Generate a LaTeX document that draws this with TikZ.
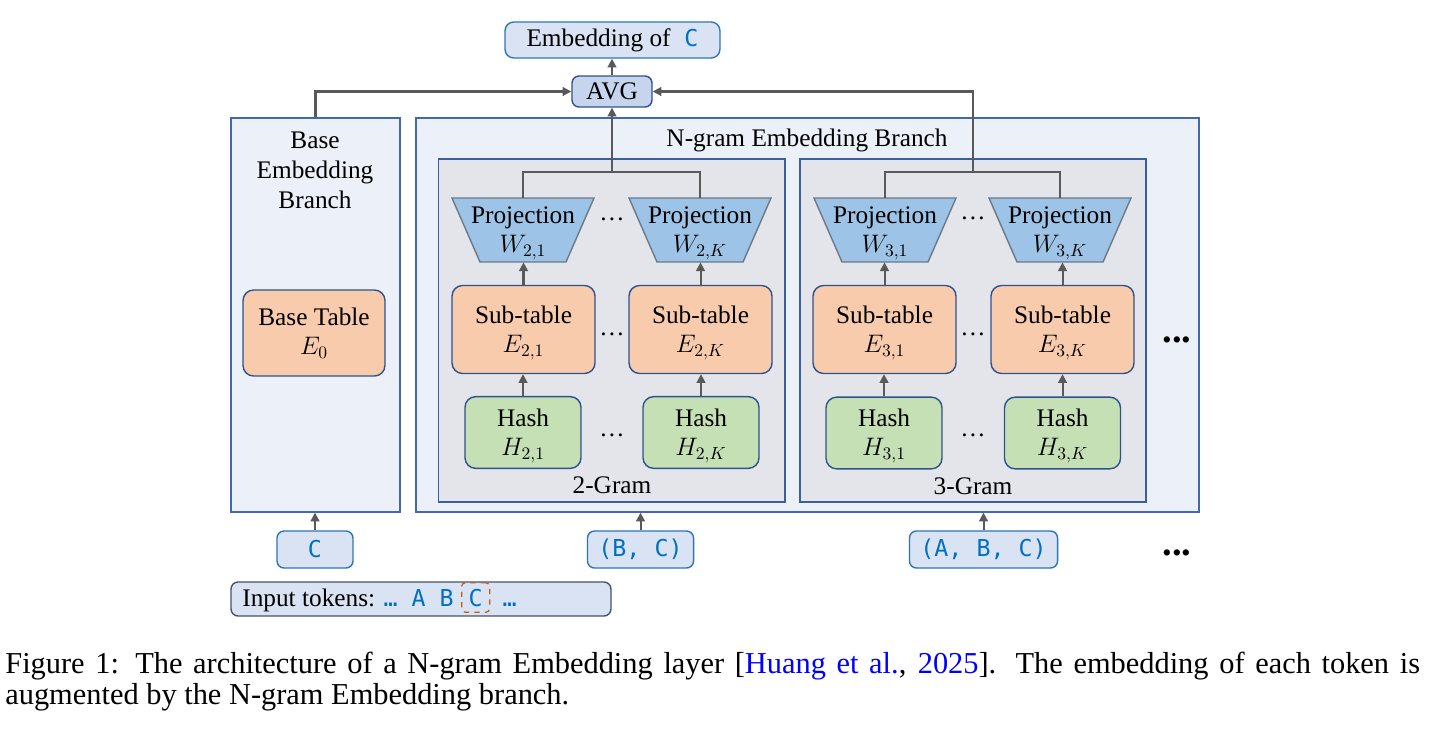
\documentclass[tikz,border=0pt]{standalone}
\usepackage{fontspec}
\setmainfont{Liberation Serif}
\setmonofont{DejaVu Sans Mono}[Scale=0.92]
\usetikzlibrary{positioning,arrows.meta}
\definecolor{arrgray}{HTML}{595959}
\definecolor{tokblue}{HTML}{0070C0}
\definecolor{citeblue}{HTML}{0000FF}
\definecolor{embfill}{HTML}{DAE3F3}
\definecolor{embdraw}{HTML}{2E75B6}
\definecolor{avgfill}{HTML}{C6D4EE}
\definecolor{boxdraw}{HTML}{2F528F}
\definecolor{branchfill}{HTML}{EBF0F9}
\definecolor{branchdraw}{HTML}{4268B0}
\definecolor{gramfill}{HTML}{E3E5EA}
\definecolor{gramdraw}{HTML}{3A5FA0}
\definecolor{projfill}{HTML}{9DC3E6}
\definecolor{projdraw}{HTML}{6A7A8A}
\definecolor{subfill}{HTML}{F8CBAD}
\definecolor{hashfill}{HTML}{C5E0B4}
\definecolor{inboxdraw}{HTML}{44546A}
\definecolor{markorange}{HTML}{C55A11}
\newcommand{\tok}[1]{\textcolor{tokblue}{\texttt{#1}}}
\newcommand{\topstrut}{\rule{0pt}{13.5pt}}
\begin{document}
\begin{tikzpicture}[x=0.02cm,y=-0.02cm,
  every node/.style={font=\fontsize{14.4}{16.5}\selectfont},
  arr/.style={draw=arrgray,line width=1.15pt,-{Triangle[length=5pt,width=5pt]}},
  link/.style={draw=arrgray,line width=1.15pt},
  branch/.style={draw=branchdraw,fill=branchfill,line width=0.8pt,inner sep=0pt,minimum height=7.88cm},
  gram/.style={draw=gramdraw,fill=gramfill,line width=0.9pt,inner sep=0pt,minimum width=6.93cm,minimum height=6.87cm},
  projshape/.style={draw=projdraw,fill=projfill,line width=0.8pt},
  projtxt/.style={align=center,inner sep=0pt,minimum height=1.28cm},
  subtab/.style={rounded corners=6pt,draw=boxdraw,fill=subfill,line width=0.8pt,align=center,
    minimum width=2.86cm,minimum height=1.76cm},
  hash/.style={rounded corners=6pt,draw=boxdraw,fill=hashfill,line width=0.8pt,align=center,
    minimum width=2.32cm,minimum height=1.42cm},
  tokbox/.style={rounded corners=4pt,draw=embdraw,fill=embfill,line width=0.8pt,
    minimum height=0.74cm,inner xsep=0.22cm},
  bigdots/.style={font=\fontsize{22}{22}\selectfont\bfseries}
]
\path[fill=white] (0,0) rectangle (1435,730);
\useasboundingbox (0,0) rectangle (1435,730);

% output side
\node[tokbox,minimum width=4.3cm,minimum height=0.72cm,rounded corners=5pt] (emb) at (612.5,40) {Embedding of\hspace{0.55em}\tok{C}};
\node[rounded corners=4pt,draw=boxdraw,fill=avgfill,line width=0.8pt,minimum width=1.6cm,minimum height=0.62cm] (avg) at (612,91.5) {AVG};

% the two branches
\node[branch,minimum width=3.38cm] (base) at (315.5,315) {};
\node[align=center,font=\fontsize{14.4}{17}\selectfont] (basettl) at (315,170) {Base\\Embedding\\Branch};
\node[subtab,minimum width=2.84cm,minimum height=1.72cm] (e0) at (314,333) {Base Table\\$E_0$};

\node[branch,minimum width=15.66cm] (ngram) at (807.5,315) {};
\node (ngttl) at (807,140) {N-gram Embedding Branch};

% 2-gram
\node[gram] (g2) at (611.5,330.5) {};
\node (g2lab) at (612,485) {2-Gram};
\draw[projshape,shift={(523,230)}] (-71,-32) -- (71,-32) -- (43,32) -- (-43,32) -- cycle;
\node[projtxt] (p21) at (523,230) {\topstrut Projection\\$W_{2,1}$};
\draw[projshape,shift={(700,230)}] (-71,-32) -- (71,-32) -- (43,32) -- (-43,32) -- cycle;
\node[projtxt] (p2K) at (700,230) {\topstrut Projection\\$W_{2,K}$};
\node[subtab] (e21) at (523.5,329.5) {\topstrut Sub-table\\$E_{2,1}$};
\node[subtab] (e2K) at (700.5,329.5) {\topstrut Sub-table\\$E_{2,K}$};
\node[hash] (h21) at (523,432.5) {\topstrut Hash\\$H_{2,1}$};
\node[hash] (h2K) at (701,432.5) {\topstrut Hash\\$H_{2,K}$};
\node (d2p) at (612,219) {…};
\node (d2e) at (612,334) {…};
\node (d2h) at (612,435) {…};

% 3-gram
\node[gram] (g3) at (973,330.5) {};
\node (g3lab) at (973,486) {3-Gram};
\draw[projshape,shift={(885,230)}] (-71,-32) -- (71,-32) -- (43,32) -- (-43,32) -- cycle;
\node[projtxt] (p31) at (885,230) {\topstrut Projection\\$W_{3,1}$};
\draw[projshape,shift={(1060,230)}] (-71,-32) -- (71,-32) -- (43,32) -- (-43,32) -- cycle;
\node[projtxt] (p3K) at (1060,230) {\topstrut Projection\\$W_{3,K}$};
\node[subtab] (e31) at (884.5,329.5) {\topstrut Sub-table\\$E_{3,1}$};
\node[subtab] (e3K) at (1062.5,329.5) {\topstrut Sub-table\\$E_{3,K}$};
\node[hash] (h31) at (884,433) {\topstrut Hash\\$H_{3,1}$};
\node[hash] (h3K) at (1062.5,433) {\topstrut Hash\\$H_{3,K}$};
\node (d3p) at (973,218) {…};
\node (d3e) at (973,334) {…};
\node (d3h) at (973,435) {…};
\node[bigdots] (moregram) at (1177,340) {...};

% inputs
\node[tokbox,minimum width=1.52cm] (inC) at (315,549.5) {\tok{C}};
\node[tokbox] (inBC) at (640.5,549.5) {\tok{(B, C)}};
\node[tokbox] (inABC) at (983.5,549.5) {\tok{(A, B, C)}};
\node[bigdots] (morein) at (1177,553) {...};

\node[rounded corners=4pt,draw=inboxdraw,fill=embfill,line width=0.8pt,minimum width=7.6cm,minimum height=0.68cm] (inbox) at (421,599) {};
\node[anchor=base west,inner sep=0pt] (intxt) at (242,606) {Input tokens: \tok{… A B}};
\node[base right=0.14cm of intxt,draw=markorange,dashed,rounded corners=2pt,line width=0.7pt,
  inner xsep=0.14cm,minimum height=0.58cm] (cmark) {\tok{C}};
\node[base right=0.24cm of cmark,inner sep=0pt] (intail) {\tok{…}};

% connectors
\draw[arr] (avg.north) -- (avg.north |- emb.south);
\draw[arr] (base.north) |- (avg.west);
\coordinate (j2) at (612,172);
\coordinate (j3) at (973,172);
\draw[link] (p21.north) |- (j2) -| (p2K.north);
\draw[link] (p31.north) |- (j3) -| (p3K.north);
\draw[arr] (j2) -- (j2 |- avg.south);
\draw[arr] (j3) |- (avg.east);

\draw[arr] (h21.north) -- (h21.north |- e21.south);
\draw[arr] (h2K.north) -- (h2K.north |- e2K.south);
\draw[arr] (h31.north) -- (h31.north |- e31.south);
\draw[arr] (h3K.north) -- (h3K.north |- e3K.south);
\draw[arr] (e21.north) -- (e21.north |- p21.south);
\draw[arr] (e2K.north) -- (e2K.north |- p2K.south);
\draw[arr] (e31.north) -- (e31.north |- p31.south);
\draw[arr] (e3K.north) -- (e3K.north |- p3K.south);

\draw[arr] (inC.north) -- (inC.north |- base.south);
\draw[arr] (inBC.north) -- (inBC.north |- ngram.south);
\draw[arr] (inABC.north) -- (inABC.north |- ngram.south);

% caption
\node[anchor=north west,text width=28.3cm,align=justify,inner sep=0pt,
  font=\fontsize{17.3}{17.6}\selectfont] (cap) at (5,652)
  {Figure 1: The architecture of a N-gram Embedding layer [\textcolor{citeblue}{Huang et al.}, \textcolor{citeblue}{2025}]. The embedding of each token is\linebreak augmented by the N-gram Embedding branch.};
\end{tikzpicture}
\end{document}
